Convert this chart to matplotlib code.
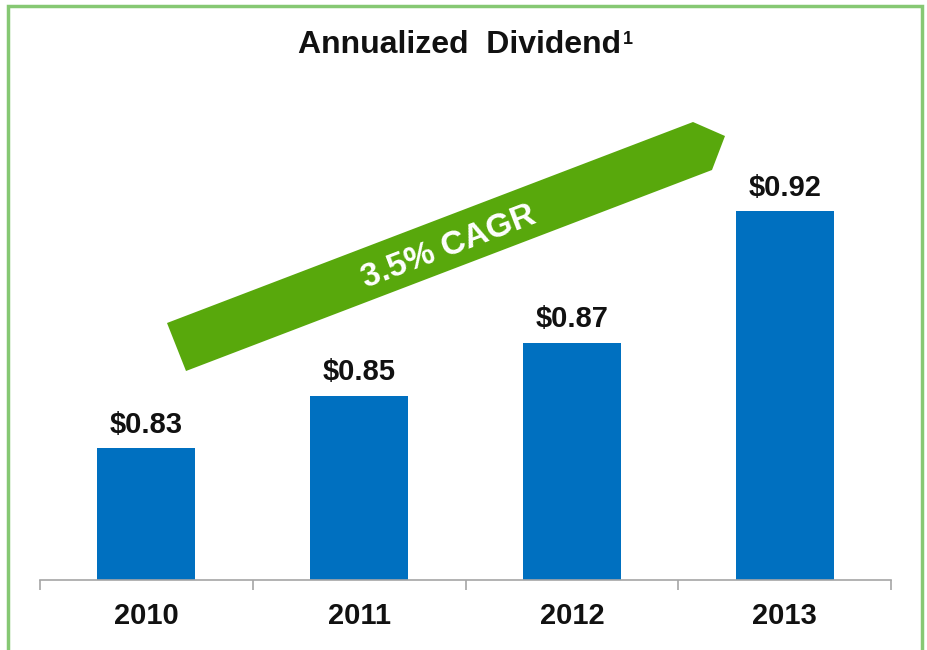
import matplotlib
matplotlib.use('Agg')
import matplotlib.pyplot as plt
from matplotlib.patches import Polygon, Rectangle

plt.rcParams['font.family'] = ['Liberation Sans', 'DejaVu Sans']
plt.rcParams['font.weight'] = 'bold'

years = ['2010', '2011', '2012', '2013']
dividends = [0.83, 0.85, 0.87, 0.92]
value_labels = ['$0.83', '$0.85', '$0.87', '$0.92']
title = 'Annualized  Dividend'
footnote_mark = '1'
cagr_label = '3.5% CAGR'

W, H = 927, 650
bar_color = '#0070C0'
arrow_color = '#58A80C'
border_color = '#86C873'


def px(x, y):
    # pixel position (from top-left) -> figure fraction
    return (x / W, 1 - y / H)


fig = plt.figure(figsize=(W / 100, H / 100), dpi=100)
ax = fig.add_axes([40 / W, 1 - 580 / H, (891 - 40) / W, (580 - 60) / H])

x = range(len(years))
ax.bar(x, dividends, width=0.46, color=bar_color, zorder=2)
ax.set_xlim(-0.5, len(years) - 0.5)
ax.set_ylim(0.78, 0.9775)

for i, (v, lab) in enumerate(zip(dividends, value_labels)):
    ax.annotate(lab, (i, v), xytext=(0, 7), textcoords='offset points',
                ha='center', va='bottom', fontsize=21, fontweight='bold',
                color='#111111')

# category axis with boundary ticks
for s in ['top', 'right', 'left']:
    ax.spines[s].set_visible(False)
ax.spines['bottom'].set_color('#a6a6a6')
ax.spines['bottom'].set_linewidth(1.2)
ax.set_yticks([])
ax.set_xticks([i - 0.5 for i in range(len(years) + 1)], minor=False)
ax.set_xticklabels([])
ax.tick_params(axis='x', which='major', length=7, width=1.2, color='#a6a6a6')
ax.set_xticks(list(x), minor=True)
ax.set_xticklabels(years, minor=True, fontsize=21, fontweight='bold', color='#111111')
ax.tick_params(axis='x', which='minor', length=0, pad=16)

# title with superscript footnote mark
t = fig.text(*px(460, 53), title, ha='center', va='baseline',
             fontsize=23, fontweight='bold', color='#111111')
fig.canvas.draw()
bb = t.get_window_extent()
fig.text((bb.x1 + 1) / W, px(0, 31)[1], footnote_mark, ha='left', va='top',
         fontsize=13, fontweight='bold', color='#111111')

# growth arrow
pts = [(167, 323), (693, 122), (725, 136), (712, 170), (186, 371)]
fig.patches.append(Polygon([px(a, b) for a, b in pts], closed=True,
                           transform=fig.transFigure, facecolor=arrow_color,
                           edgecolor='none', zorder=1))
fig.text(*px(449, 247), cagr_label, ha='center', va='center', rotation=20.9,
         rotation_mode='anchor', fontsize=24, fontweight='bold', color='white',
         zorder=3)

# outer green frame
fig.patches.append(Rectangle(px(8, 662), (922 - 8) / W, (662 - 6) / H,
                             transform=fig.transFigure, fill=False,
                             edgecolor=border_color, linewidth=2.5))

fig.savefig('out.png', dpi=100)
